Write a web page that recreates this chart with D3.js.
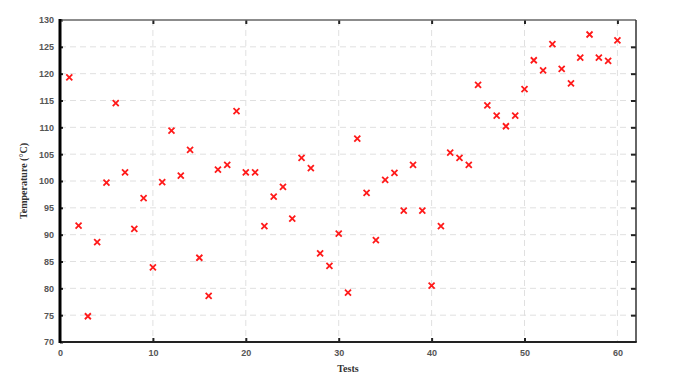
<!DOCTYPE html>
<html><head><meta charset="utf-8">
<script src="https://cdn.jsdelivr.net/npm/d3@7"></script>
<style>body{margin:0;background:#fff}</style>
</head><body>
<svg id="c" width="688" height="380"></svg>
<script>
const tests = d3.range(1, 61);
const temperature = [
 119.3, 91.7, 74.8, 88.6, 99.7, 114.5, 101.6, 91.1, 96.8, 83.9,
 99.8, 109.4, 101.0, 105.8, 85.7, 78.6, 102.1, 103.0, 113.0, 101.6,
 101.6, 91.6, 97.1, 98.9, 93.0, 104.3, 102.4, 86.5, 84.2, 90.2,
 79.2, 107.9, 97.8, 89.0, 100.2, 101.5, 94.5, 103.0, 94.5, 80.5,
 91.6, 105.3, 104.3, 103.0, 117.9, 114.1, 112.2, 110.2, 112.2, 117.1,
 122.5, 120.6, 125.5, 120.9, 118.2, 123.0, 127.3, 123.0, 122.4, 126.2
];
const xTicks = [0, 10, 20, 30, 40, 50, 60];
const yTicks = [70, 75, 80, 85, 90, 95, 100, 105, 110, 115, 120, 125, 130];

const svg = d3.select("#c");
const L = 60, R = 636, T = 20, B = 342;
const x = d3.scaleLinear().domain([0, 62]).range([L, R]);
const y = d3.scaleLinear().domain([70, 130]).range([B, T]);

// grid
svg.append("g").selectAll("line").data(xTicks.filter(d => d > 0)).join("line")
  .attr("x1", d => x(d)).attr("x2", d => x(d)).attr("y1", T).attr("y2", B)
  .attr("stroke", "#e0e0e0").attr("stroke-width", 1).attr("stroke-dasharray", "6,4");
svg.append("g").selectAll("line").data(yTicks.filter(d => d > 70 && d < 130)).join("line")
  .attr("x1", L).attr("x2", R).attr("y1", d => y(d)).attr("y2", d => y(d))
  .attr("stroke", "#e0e0e0").attr("stroke-width", 1).attr("stroke-dasharray", "6,4");

// axes
const fontTick = "bold 9px 'Liberation Sans', Arial, sans-serif";
const gx = svg.append("g").attr("transform", `translate(0,${B})`)
  .call(d3.axisBottom(x).tickValues(xTicks).tickSize(-4).tickPadding(8).tickFormat(d3.format("d")));
const gxt = svg.append("g").attr("transform", `translate(0,${T})`)
  .call(d3.axisTop(x).tickValues(xTicks).tickSize(-4).tickFormat(""));
const gy = svg.append("g").attr("transform", `translate(${L},0)`)
  .call(d3.axisLeft(y).tickValues(yTicks).tickSize(-3).tickPadding(6).tickFormat(d3.format("d")));
const gyr = svg.append("g").attr("transform", `translate(${R},0)`)
  .call(d3.axisRight(y).tickValues(yTicks).tickSize(-5).tickFormat(""));
[gx, gxt, gy, gyr].forEach(g => {
  g.selectAll(".domain").remove();
  g.selectAll(".tick line").attr("stroke", "#222").attr("stroke-width", 2);
  g.selectAll("text").style("font", fontTick).attr("fill", "#555");
});
gx.selectAll(".tick").filter(d => d === 0 || d === 60).select("line").remove();
gxt.selectAll(".tick").filter(d => d === 0).select("line").remove();
gyr.selectAll(".tick").filter(d => d === 70 || d === 130).select("line").remove();

// frame
svg.append("line").attr("x1", L).attr("x2", R).attr("y1", T).attr("y2", T).attr("stroke", "#666").attr("stroke-width", 1.5);
svg.append("line").attr("x1", R).attr("x2", R).attr("y1", T).attr("y2", B).attr("stroke", "#333").attr("stroke-width", 1.5);
svg.append("line").attr("x1", L - 1).attr("x2", R + 0.75).attr("y1", B).attr("y2", B).attr("stroke", "#222").attr("stroke-width", 2);
svg.append("line").attr("x1", L).attr("x2", L).attr("y1", T - 1).attr("y2", B + 1).attr("stroke", "#000").attr("stroke-width", 3);

// points
const s = 3;
const pts = svg.append("g").selectAll("g").data(tests).join("g")
  .attr("transform", (d, i) => `translate(${x(d)},${y(temperature[i])})`);
pts.append("path").attr("d", `M${-s},${-s}L${s},${s}M${-s},${s}L${s},${-s}`)
  .attr("stroke", "#ff1a1a").attr("stroke-width", 1.8).attr("fill", "none");

// titles
svg.append("text").attr("x", (L + R) / 2).attr("y", 372).attr("text-anchor", "middle")
  .style("font", "bold 10px 'Liberation Serif', 'Times New Roman', serif").attr("fill", "#333").text("Tests");
svg.append("text").attr("transform", `translate(27,${(T + B) / 2}) rotate(-90)`).attr("text-anchor", "middle")
  .style("font", "bold 10px 'Liberation Serif', 'Times New Roman', serif").attr("fill", "#333").text("Temperature (°C)");
</script>
</body></html>
